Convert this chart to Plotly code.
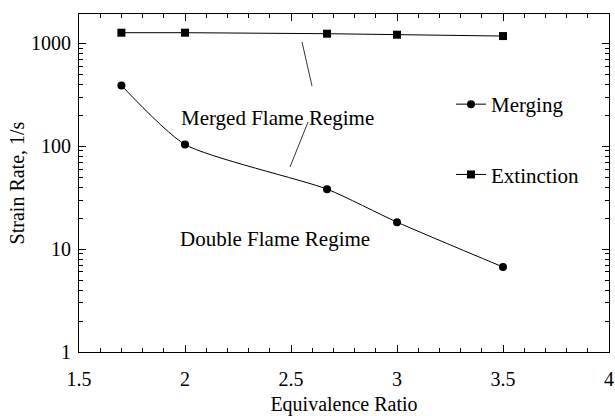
import numpy as np
import plotly.graph_objects as go

# Data
equiv_merging = [1.7, 2.0, 2.67, 3.0, 3.5]
strain_merging = [390, 104, 38.3, 18.3, 6.7]
equiv_extinction = [1.7, 2.0, 2.67, 3.0, 3.5]
strain_extinction = [1270, 1270, 1242, 1214, 1178]

x_ticks = [1.5, 2, 2.5, 3, 3.5, 4]
x_ticktext = ["1.5", "2", "2.5", "3", "3.5", "4"]
y_ticks = [1, 10, 100, 1000]
y_ticktext = ["1", "10", "100", "1000"]
y_minor = [m * 10 ** e for e in range(0, 4) for m in range(2, 10)]

FONT = "Liberation Serif"
W, H = 615, 416
L, R, T, B = 79, 6, 14, 64
pw, ph = W - L - R, H - T - B

def px(xp):
    return (xp - L) / pw

def py(yp):
    return (H - B - yp) / ph

fig = go.Figure()
fig.add_trace(go.Scatter(
    x=equiv_merging, y=strain_merging, mode="lines+markers", name="Merging",
    line=dict(color="black", width=1, shape="spline", smoothing=0.6),
    marker=dict(symbol="circle", size=8, color="black"),
    legendgroup="a"))
fig.add_trace(go.Scatter(
    x=equiv_extinction, y=strain_extinction, mode="lines+markers", name="Extinction",
    line=dict(color="black", width=1),
    marker=dict(symbol="square", size=8, color="black"),
    legendgroup="b"))

axis_common = dict(showline=True, linecolor="black", linewidth=1, mirror="ticks",
                   ticks="inside", tickcolor="black", showgrid=False, zeroline=False,
                   automargin=False,
                   tickfont=dict(family=FONT, size=20, color="black"))

fig.update_xaxes(range=[1.5, 4], tickvals=x_ticks, ticktext=x_ticktext, ticklen=7,
                 ticklabelstandoff=9,
                 minor=dict(dtick=0.1, ticks="inside", ticklen=4, tickcolor="black"),
                 title=dict(text="Equivalence Ratio", font=dict(family=FONT, size=20, color="black"), standoff=12),
                 **axis_common)
fig.update_yaxes(type="log", range=[0, np.log10(1930)], tickvals=y_ticks, ticktext=y_ticktext, ticklen=7,
                 ticklabelstandoff=3,
                 minor=dict(tickvals=y_minor, ticks="inside", ticklen=4, tickcolor="black"),
                 title=dict(text="Strain Rate, 1/s", font=dict(family=FONT, size=20, color="black"), standoff=1),
                 **axis_common)

fig.add_annotation(xref="paper", yref="paper", x=px(277), y=py(104), text="Merged Flame Regime",
                   showarrow=False, font=dict(family=FONT, size=21, color="black"))
fig.add_annotation(xref="paper", yref="paper", x=px(275), y=py(253), text="Double Flame Regime",
                   showarrow=False, font=dict(family=FONT, size=21, color="black"))

for (x0, y0, x1, y1) in [(302, 42, 312, 86), (308, 122, 290, 167)]:
    fig.add_shape(type="line", xref="paper", yref="paper", x0=px(x0), y0=py(y0), x1=px(x1), y1=py(y1),
                  line=dict(color="black", width=0.8))

fig.update_layout(
    width=W, height=H, margin=dict(l=L, r=R, t=T, b=B, autoexpand=False),
    paper_bgcolor="white", plot_bgcolor="white",
    font=dict(family=FONT, color="black"),
    legend=dict(x=px(451), y=py(84), xanchor="left", yanchor="top",
                bgcolor="rgba(0,0,0,0)", tracegroupgap=40,
                font=dict(family=FONT, size=21, color="black")),
)

fig.write_html("out.html")
